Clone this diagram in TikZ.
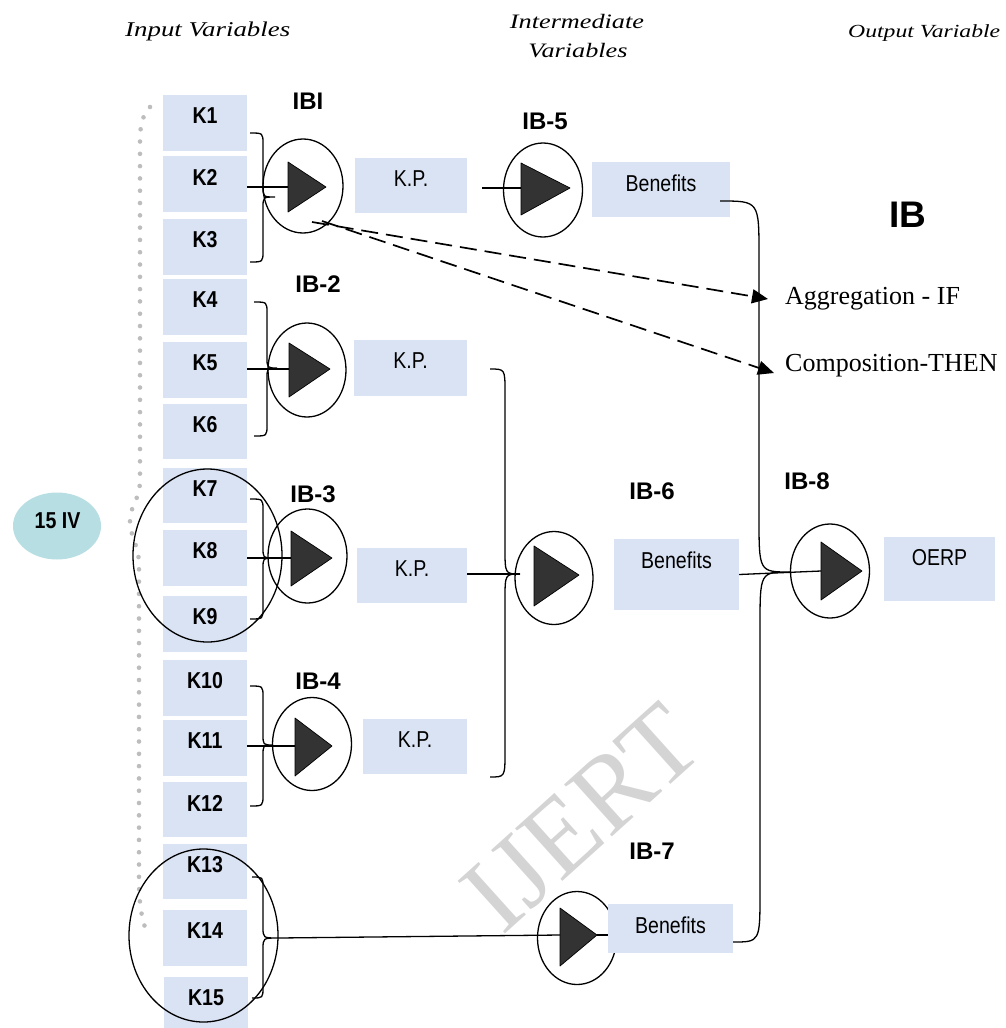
\documentclass[tikz,border=0pt]{standalone}
\usepackage{fontspec}
\setmainfont{Liberation Serif}
\newfontfamily\arialN[FakeStretch=0.85]{Liberation Sans}
\newfontfamily\arialW{Liberation Sans}
\newfontfamily\hdrfont[FakeStretch=1.28]{Liberation Serif}
\usetikzlibrary{shapes.geometric,arrows.meta}
\definecolor{boxblue}{HTML}{DAE3F3}
\definecolor{tealc}{HTML}{B7DEE2}
\definecolor{trifill}{HTML}{333333}
\definecolor{dotgray}{HTML}{BDBDBD}
\newcommand\kb[7]{\node[kbox, minimum width={(#3-#2)*1pt}, minimum height={(#5-#4)*1pt}] (#1) at ({(#2+#3)/2},{(#4+#5)/2}) {};
  \node[#6] (#1t) at ({(#2+#3)/2},{#4+21}) {#7};}
\newcommand\gate[5]{\node[gate, minimum width=#4pt, minimum height=#5pt] (#1) at (#2,#3) {};}
\newcommand\trig[6]{\draw[tri] (#2,#3) -- (#5,#6) coordinate (#1tip) -- (#2,#4) -- cycle; \coordinate (#1in) at (#2,#6);}
\newcommand\rbr[8]{\draw[conn] (#2,#3) .. controls (#5,#3) .. (#5,{#3+#8}) -- (#5,{#7-#8}) .. controls (#5,#7) .. (#6,#7) coordinate (#1) .. controls (#5,#7) .. (#5,{#7+#8}) -- (#5,{#4-#8}) .. controls (#5,#4) .. (#2,#4);}
\begin{document}
\begin{tikzpicture}[x=1pt,y=-1pt,
  kbox/.style={rectangle, fill=boxblue, draw=none, inner sep=0pt},
  ktext/.style={font={\arialN\bfseries\fontsize{23}{27}\selectfont}, inner sep=0pt},
  rtext/.style={font={\arialN\fontsize{23}{27}\selectfont}, inner sep=0pt},
  ibl/.style={font={\arialW\bfseries\fontsize{24}{28}\selectfont}, inner sep=0pt},
  hdr/.style={font={\hdrfont\itshape\fontsize{21}{25}\selectfont}, inner sep=0pt},
  sertext/.style={font={\fontsize{26}{30}\selectfont}, inner sep=0pt},
  gate/.style={draw, ellipse, line width=1.3pt, inner sep=0pt},
  tri/.style={fill=trifill, draw=black, line width=0.7pt, line join=round},
  conn/.style={line width=1.3pt},
  dashconn/.style={line width=1.7pt, dash pattern=on 17pt off 8pt, -{Triangle[length=16pt,width=14pt]}},
  dotline/.style={draw=dotgray, line width=4.6pt, line cap=round, dash pattern=on 0pt off 12.3pt}]
\useasboundingbox (0,0) rectangle (1005,1028);

% watermark
\node[font={\fontsize{108}{108}\selectfont}, text=black!17, rotate=42, inner sep=0pt] (wm) at (582,818) {IJERT};

% headers
\node[hdr, anchor=base west] (hin) at (125,36) {Input Variables};
\node[hdr, anchor=base, font={\hdrfont\itshape\fontsize{20.5}{24}\selectfont}] (hint1) at (577,28) {Intermediate};
\node[hdr, anchor=base, font={\hdrfont\itshape\fontsize{20.5}{24}\selectfont}] (hint2) at (578,57) {Variables};
\node[hdr, anchor=base west, font={\hdrfont\itshape\fontsize{18.5}{22}\selectfont}] (hout) at (848,37) {Output Variable};

% dotted boundary
\draw[dotline] (150,107) .. controls (143,114) and (140,125) .. (140,140) -- (140,480) .. controls (140,500) and (130,505) .. (130,521) .. controls (130,537) and (139,545) .. (139,565) -- (139,880) .. controls (139,905) and (142,920) .. (147,933);

% 15 IV
\node[ellipse, fill=tealc, draw=none, minimum width=88pt, minimum height=67pt, inner sep=0pt] (iv) at (57,526) {};
\node[ktext] (ivt) at (57.5,521) {15 IV};

% input boxes
\kb{k1}{163}{247}{95}{151}{ktext}{K1}
\kb{k2}{163}{247}{156}{212}{ktext}{K2}
\kb{k3}{163}{247}{219}{275}{ktext}{K3}
\kb{k4}{163}{247}{279}{335}{ktext}{K4}
\kb{k5}{163}{247}{342}{398}{ktext}{K5}
\kb{k6}{163}{247}{404}{459}{ktext}{K6}
\kb{k7}{163}{247}{468}{523}{ktext}{K7}
\kb{k8}{163}{247}{530}{586}{ktext}{K8}
\kb{k9}{163}{247}{596}{652}{ktext}{K9}
\kb{k10}{163}{247}{660}{716}{ktext}{K10}
\kb{k11}{163}{247}{720}{776}{ktext}{K11}
\kb{k12}{163}{247}{782}{837}{ktext}{K12}
\kb{k13}{163}{247}{844}{899}{ktext}{K13}
\kb{k14}{163}{247}{910}{966}{ktext}{K14}
\kb{k15}{164}{248}{977}{1028}{ktext}{K15}

% intermediate boxes
\kb{kp1}{355}{467}{158}{213}{rtext}{K.P.}
\kb{kp2}{354}{467}{340}{396}{rtext}{K.P.}
\kb{kp3}{357}{467}{548}{603}{rtext}{K.P.}
\kb{kp4}{363}{467}{719}{774}{rtext}{K.P.}
\kb{ben5}{592}{730}{162}{217}{rtext}{Benefits}
\kb{ben6}{614}{739}{539}{610}{rtext}{Benefits}
\kb{oerp}{884}{995}{537}{601}{rtext}{OERP}

% grouping ellipses
\node[gate, minimum width=149pt, minimum height=173pt] (e79) at (207.5,555.5) {};
\node[gate, minimum width=149pt, minimum height=173pt] (e1315) at (203.5,935.5) {};

% gates
\gate{g1}{303}{186}{80}{94}
\gate{g2}{307}{370}{78}{94}
\gate{g3}{307.5}{556}{79}{94}
\gate{g4}{312}{744}{79}{93}
\gate{g5}{543}{190}{79}{94}
\gate{g6}{554}{578}{78}{93}
\gate{g7}{577}{938}{79}{93}
\gate{g8}{830}{571}{79}{94}
\trig{g1}{288}{162}{212}{326}{187}
\trig{g2}{289}{343}{397}{330}{369}
\trig{g3}{291}{531}{586}{332}{558}
\trig{g4}{295}{718}{776}{332}{746}
\trig{g5}{521}{163}{215}{570}{188}
\trig{g6}{534}{546}{606}{579}{575}
\trig{g7}{560}{908}{966}{597}{935}
\trig{g8}{821}{542}{600}{862}{571}

\kb{ben7}{608}{733}{904}{953}{rtext}{Benefits}

% gate labels
\node[ibl] (l1) at (308,101) {IBI};
\node[ibl] (l5) at (545,121) {IB-5};
\node[ibl] (l2) at (318,284) {IB-2};
\node[ibl] (l3) at (313,494) {IB-3};
\node[ibl] (l4) at (318,681) {IB-4};
\node[ibl] (l6) at (652,491) {IB-6};
\node[ibl] (l7) at (652,851) {IB-7};
\node[ibl] (l8) at (807,481) {IB-8};
\node[font={\arialW\bfseries\fontsize{37}{40}\selectfont}, inner sep=0pt] (ib) at (908,215) {IB};

% braces
\rbr{b1tip}{250}{133}{262}{263}{275}{197}{11}
\rbr{b2tip}{254}{302}{436}{267}{277}{368}{11}
\rbr{b3tip}{250}{499}{619}{263}{273}{558}{11}
\rbr{b4tip}{250}{686}{806}{263}{273}{745}{11}
\rbr{b7tip}{252}{877}{998}{263}{278}{938}{11}
\draw[conn] (490,369) .. controls (505,369) .. (505,392) -- (505,548) .. controls (505,574) .. (520,574) coordinate (b6tip) .. controls (505,574) .. (505,600) -- (505,752) .. controls (505,777) .. (490,777);
\draw[conn] (720,201) .. controls (759,201) .. (759,255) -- (759,517) .. controls (759,572) .. (790,572) coordinate (b8tip) .. controls (760,572) .. (760,627) -- (760,892) .. controls (760,942) .. (733,942);

% connectors
\draw[conn] (k2.east |- g1in) -- (g1in);
\draw[conn] (k5.east |- g2in) -- (g2in);
\draw[conn] (k8.east |- g3in) -- (g3in);
\draw[conn] (k11.east |- g4in) -- (g4in);
\draw[conn] ([xshift=15pt]kp1.east |- g5in) -- (g5in);
\draw[conn] (kp3.east |- b6tip) -- (b6tip);
\draw[conn] (ben6.east) -- (g8in);
\draw[conn] (b7tip) -- (g7in);
\draw[conn] (g7tip) -- (ben7.west |- g7tip);

% legend arrows
\node[sertext, anchor=base west] (agg) at (785,304) {Aggregation - IF};
\node[sertext, anchor=base west] (comp) at (785,371) {Composition-THEN};
\coordinate (dsA) at (312,222);
\coordinate (dsB) at (322,221);
\coordinate (aggtip) at (768,299);
\coordinate (comptip) at (774,373);
\draw[dashconn] (dsA) -- (aggtip);
\draw[dashconn] (dsB) -- (comptip);
\end{tikzpicture}
\end{document}
